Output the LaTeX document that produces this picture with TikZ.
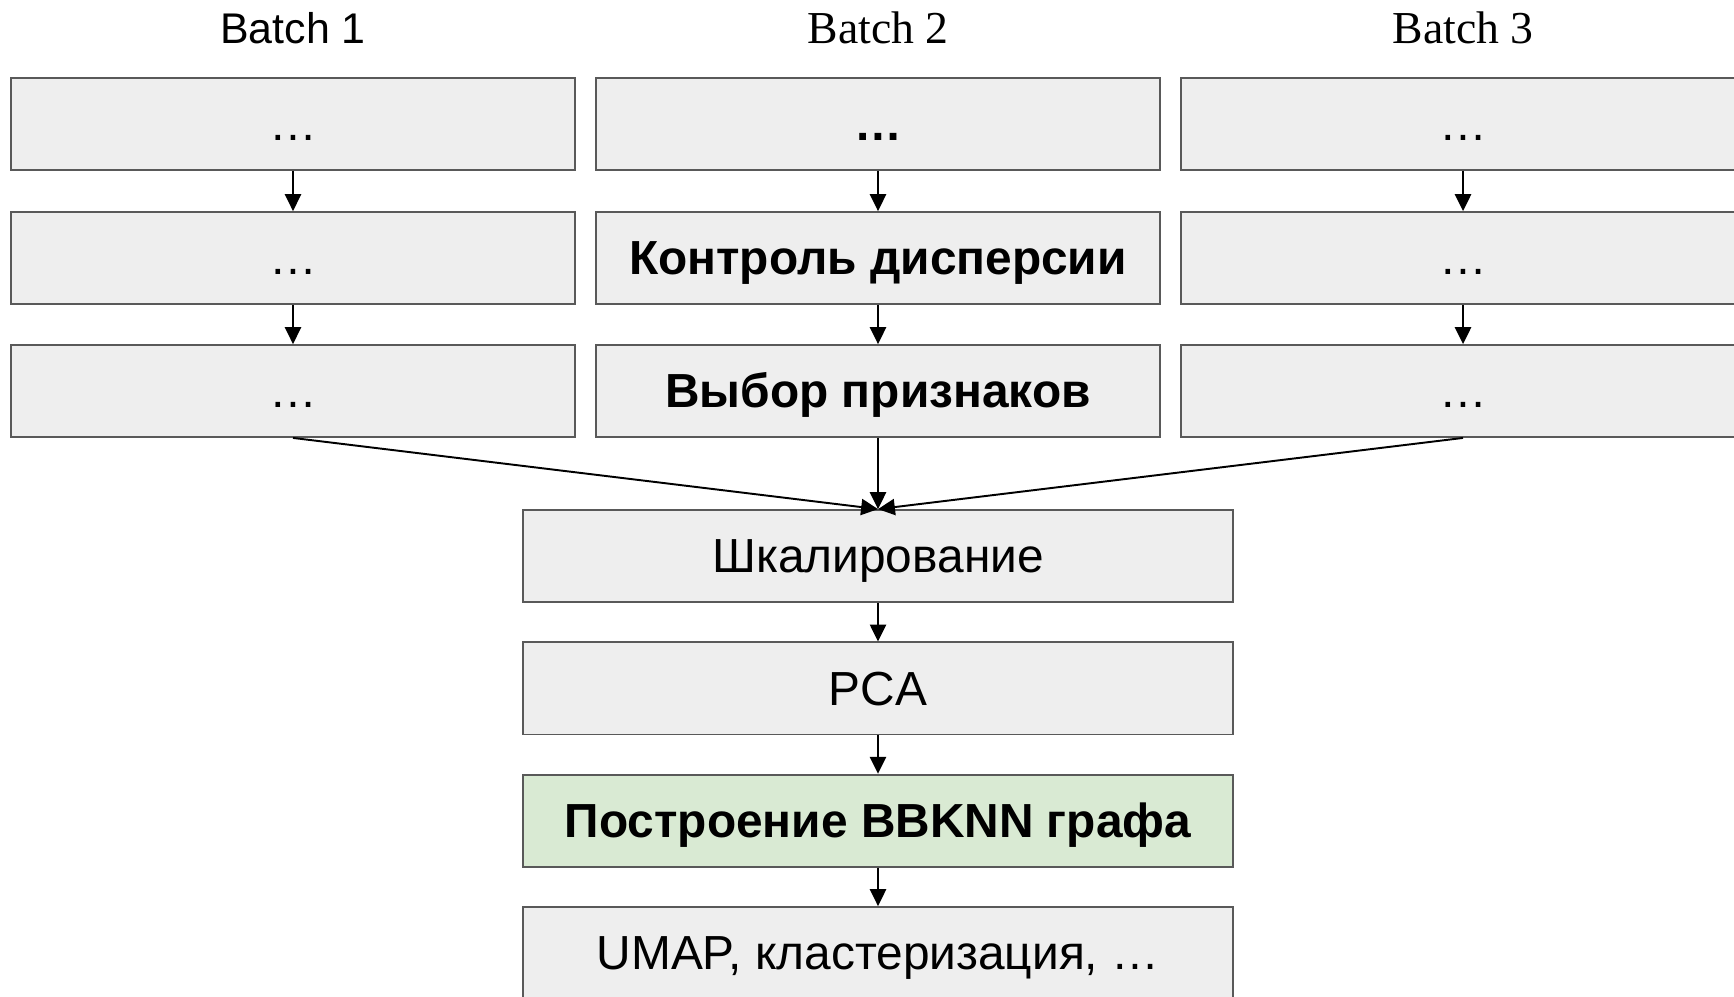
\documentclass[tikz,border=0pt]{standalone}
\usepackage{fontspec}
\setmainfont{Liberation Sans}
\newfontfamily\timesfont{Liberation Serif}
\usetikzlibrary{arrows.meta,
                positioning,
                calc}

\definecolor{boxfill}{HTML}{EEEEEE}
\definecolor{boxline}{HTML}{595959}
\definecolor{bbknnfill}{HTML}{D9EAD3}

\tikzset{
  stage/.style={draw=boxline, line width=0.5pt, fill=boxfill, rectangle,
                minimum width=5.64cm, minimum height=0.92cm, inner sep=0pt,
                text height=12pt, text depth=2.4pt,
                font=\fontsize{13.6}{16}\selectfont},
  boldstage/.style={stage, font=\bfseries\fontsize{13.6}{16}\selectfont},
  widestage/.style={stage, minimum width=7.10cm},
  flow/.style={-{Triangle[width=4.6pt,length=4.8pt]}, line width=0.55pt},
  batchlabel/.style={font=\fontsize{12.2}{15}\selectfont}
}

\begin{document}
\begin{tikzpicture}[x=0.01cm, y=-0.01cm]
  \useasboundingbox (0,0) rectangle (1734,996);

  % batch labels
  \node[batchlabel] (L-1) at (293,28) {Batch 1};
  \node[batchlabel, font=\timesfont\fontsize{13}{15}\selectfont] (L-2) at (878,28) {Batch 2};
  \node[batchlabel, font=\timesfont\fontsize{13}{15}\selectfont] (L-3) at (1463,28) {Batch 3};

  % per-batch stages (batch 2 is shown in detail)
  \foreach \c/\x in {1/293,3/1463}{%
    \node[stage] (B\c-1) at (\x,124) {\ldots};
    \node[stage] (B\c-2) at (\x,258) {\ldots};
    \node[stage] (B\c-3) at (\x,391) {\ldots};
  }
  \node[boldstage] (B2-1) at (878,124) {\ldots};
  \node[boldstage] (B2-2) at (878,258) {Контроль дисперсии};
  \node[boldstage] (B2-3) at (878,391) {Выбор признаков};

  \foreach \c in {1,2,3}{%
    \draw[flow] (B\c-1) -- (B\c-2);
    \draw[flow] (B\c-2) -- (B\c-3);
  }

  % common stages
  \node[widestage] (scale) at (878,556) {Шкалирование};
  \node[widestage, below=0.385cm of scale] (pca) {PCA};
  \node[widestage, fill=bbknnfill, font=\bfseries\fontsize{13.6}{16}\selectfont,
        below=0.385cm of pca] (bbknn) {Построение BBKNN графа};
  \node[widestage, below=0.385cm of bbknn] (umap) {UMAP, кластеризация, \ldots};

  \foreach \c in {1,2,3}{%
    \draw[flow] (B\c-3.south) -- (scale.north);
  }
  \draw[flow] (scale) -- (pca);
  \draw[flow] (pca) -- (bbknn);
  \draw[flow] (bbknn) -- (umap);
\end{tikzpicture}
\end{document}
